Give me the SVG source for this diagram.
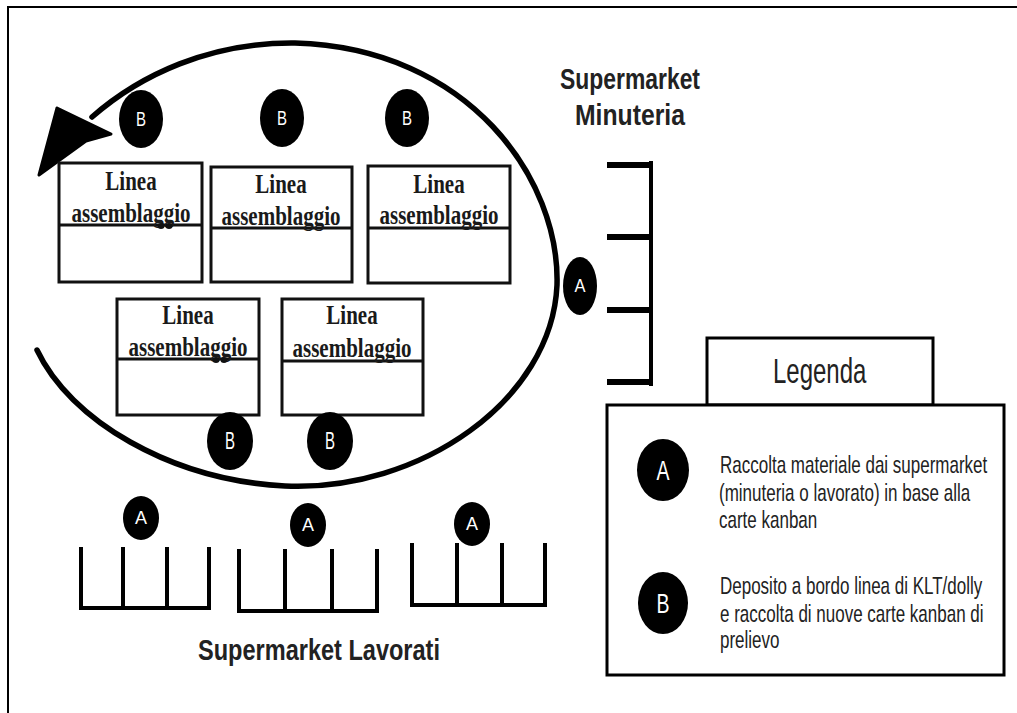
<svg xmlns="http://www.w3.org/2000/svg" width="1017" height="713" viewBox="0 0 1017 713">
  <style>
    .frame { fill: none; stroke: #000; stroke-width: 2; }
    .line-box { fill: #fff; stroke: #111; stroke-width: 3; }
    .divider { stroke: #111; stroke-width: 3; }
    .line-title { font-family: "Liberation Serif", "Times New Roman", serif; font-weight: bold; font-size: 21px; fill: #1a1a1a; text-anchor: middle; }
    .badge { fill: #000; }
    .badge-label { font-family: "Liberation Sans", Arial, sans-serif; fill: #fff; text-anchor: middle; }
    .rack { fill: none; stroke: #000; stroke-width: 4; stroke-linecap: square; }
    .rack-tick { stroke: #000; stroke-width: 6; }
    .heading { font-family: "Liberation Sans", Arial, sans-serif; font-weight: bold; font-size: 23.5px; fill: #222; }
    .legend-box { fill: #fff; stroke: #000; stroke-width: 3; }
    .legend-text { font-family: "Liberation Sans", Arial, sans-serif; font-size: 17px; fill: #222; }
    .legend-title { font-family: "Liberation Sans", Arial, sans-serif; font-size: 24px; fill: #222; }
    .loop { fill: none; stroke: #000; stroke-width: 5.5; stroke-linecap: round; stroke-linejoin: round; }
  </style>

  <rect width="1017" height="713" fill="#fff"/>
  <!-- page border (top and left edges) -->
  <path class="frame" d="M8,713 V7 H1017"/>

  <!-- milk-run loop with arrowhead -->
  <g id="connectors">
    <path class="loop" d="M37,350 C70,420 170,480 285,486 C420,492 552,400 557,285 C560,180 470,48 295,43 C210,42 140,75 92,117"/>
    <polygon points="39,175 57,108 111,134 86,141" fill="#000" stroke="#000" stroke-width="3" stroke-linejoin="round"/>
  </g>

  <!-- assembly lines -->
  <g id="line-1">
    <rect class="line-box" x="59" y="163" width="143" height="119"/>
    <line class="divider" x1="59" y1="225" x2="202" y2="225"/>
    <text class="line-title" transform="translate(131,190) scale(1,1.3)">Linea</text>
    <text class="line-title" transform="translate(131,222) scale(1,1.3)">assemblaggio</text>
    <ellipse cx="161" cy="226" rx="3.5" ry="3" fill="#111"/>
    <ellipse cx="169" cy="226" rx="3.5" ry="3" fill="#111"/>
  </g>
  <g id="line-2">
    <rect class="line-box" x="211" y="167" width="141" height="115"/>
    <line class="divider" x1="211" y1="228" x2="352" y2="228"/>
    <text class="line-title" transform="translate(281,193) scale(1,1.3)">Linea</text>
    <text class="line-title" transform="translate(281,225) scale(1,1.3)">assemblaggio</text>
  </g>
  <g id="line-3">
    <rect class="line-box" x="368" y="166" width="142" height="117"/>
    <line class="divider" x1="368" y1="228" x2="510" y2="228"/>
    <text class="line-title" transform="translate(439,193) scale(1,1.3)">Linea</text>
    <text class="line-title" transform="translate(439,224) scale(1,1.3)">assemblaggio</text>
  </g>
  <g id="line-4">
    <rect class="line-box" x="117" y="299" width="142" height="116"/>
    <line class="divider" x1="117" y1="359" x2="259" y2="359"/>
    <text class="line-title" transform="translate(188,324) scale(1,1.3)">Linea</text>
    <text class="line-title" transform="translate(188,356) scale(1,1.3)">assemblaggio</text>
    <ellipse cx="216" cy="360" rx="3.5" ry="3" fill="#111"/>
    <ellipse cx="224" cy="360" rx="3.5" ry="3" fill="#111"/>
  </g>
  <g id="line-5">
    <rect class="line-box" x="282" y="299" width="141" height="116"/>
    <line class="divider" x1="282" y1="361" x2="423" y2="361"/>
    <text class="line-title" transform="translate(352,324) scale(1,1.3)">Linea</text>
    <text class="line-title" transform="translate(352,357) scale(1,1.3)">assemblaggio</text>
  </g>

  <!-- B stops at the lines -->
  <g id="stop-b-1">
    <ellipse class="badge" cx="141" cy="119" rx="22" ry="29"/>
    <text class="badge-label" x="141" y="126" font-size="21" textLength="10" lengthAdjust="spacingAndGlyphs">B</text>
  </g>
  <g id="stop-b-2">
    <ellipse class="badge" cx="282" cy="118" rx="22" ry="29"/>
    <text class="badge-label" x="282" y="125" font-size="21" textLength="10" lengthAdjust="spacingAndGlyphs">B</text>
  </g>
  <g id="stop-b-3">
    <ellipse class="badge" cx="407" cy="118" rx="22" ry="29"/>
    <text class="badge-label" x="407" y="125" font-size="21" textLength="10" lengthAdjust="spacingAndGlyphs">B</text>
  </g>
  <g id="stop-b-4">
    <ellipse class="badge" cx="230" cy="441" rx="23" ry="29"/>
    <text class="badge-label" x="230" y="449" font-size="23" textLength="10" lengthAdjust="spacingAndGlyphs">B</text>
  </g>
  <g id="stop-b-5">
    <ellipse class="badge" cx="330" cy="441" rx="23" ry="29"/>
    <text class="badge-label" x="330" y="449" font-size="23" textLength="10" lengthAdjust="spacingAndGlyphs">B</text>
  </g>

  <!-- Supermarket Minuteria -->
  <g id="supermarket-minuteria">
    <text class="heading" transform="translate(560,89) scale(1,1.22)" textLength="140" lengthAdjust="spacingAndGlyphs">Supermarket</text>
    <text class="heading" transform="translate(575,125) scale(1,1.22)" textLength="110" lengthAdjust="spacingAndGlyphs">Minuteria</text>
    <line class="rack" x1="651" y1="163" x2="651" y2="384"/>
    <line class="rack-tick" x1="607" y1="165" x2="653" y2="165"/>
    <line class="rack-tick" x1="607" y1="237" x2="653" y2="237"/>
    <line class="rack-tick" x1="607" y1="310" x2="653" y2="310"/>
    <line class="rack-tick" x1="607" y1="382" x2="653" y2="382"/>
  </g>
  <g id="stop-a-minuteria">
    <ellipse class="badge" cx="580" cy="286" rx="17" ry="29"/>
    <text class="badge-label" x="580" y="292" font-size="18" textLength="11" lengthAdjust="spacingAndGlyphs">A</text>
  </g>

  <!-- Supermarket Lavorati -->
  <g id="supermarket-lavorati">
    <path class="rack" d="M81,549 V608 H209 V549 M123,549 V608 M167,549 V608"/>
    <path class="rack" d="M239,551 V611 H377 V551 M285,551 V611 M332,551 V611"/>
    <path class="rack" d="M412,545 V605 H545 V545 M457,545 V605 M502,545 V605"/>
    <text class="heading" transform="translate(198,660) scale(1,1.22)" textLength="242" lengthAdjust="spacingAndGlyphs">Supermarket Lavorati</text>
  </g>
  <g id="stop-a-1">
    <ellipse class="badge" cx="141" cy="518" rx="18" ry="22"/>
    <text class="badge-label" x="141" y="524" font-size="18" textLength="12" lengthAdjust="spacingAndGlyphs">A</text>
  </g>
  <g id="stop-a-2">
    <ellipse class="badge" cx="308" cy="525" rx="18" ry="22"/>
    <text class="badge-label" x="308" y="531" font-size="18" textLength="12" lengthAdjust="spacingAndGlyphs">A</text>
  </g>
  <g id="stop-a-3">
    <ellipse class="badge" cx="472" cy="524" rx="18" ry="22"/>
    <text class="badge-label" x="472" y="530" font-size="18" textLength="12" lengthAdjust="spacingAndGlyphs">A</text>
  </g>

  <!-- Legend -->
  <g id="legend">
    <rect class="legend-box" x="707" y="338" width="226" height="67"/>
    <text class="legend-title" transform="translate(773,383) scale(1,1.5)">Legenda</text>
    <rect class="legend-box" x="607" y="405" width="397" height="270"/>

    <ellipse class="badge" cx="663" cy="470" rx="26" ry="31"/>
    <text class="badge-label" x="663" y="480" font-size="28" textLength="13" lengthAdjust="spacingAndGlyphs">A</text>
    <text class="legend-text" transform="translate(720,473) scale(1,1.4)">Raccolta materiale dai supermarket</text>
    <text class="legend-text" transform="translate(719,501) scale(1,1.4)">(minuteria o lavorato) in base alla</text>
    <text class="legend-text" transform="translate(719,528) scale(1,1.4)">carte kanban</text>

    <ellipse class="badge" cx="663" cy="603" rx="25" ry="31"/>
    <text class="badge-label" x="663" y="613" font-size="28" textLength="13" lengthAdjust="spacingAndGlyphs">B</text>
    <text class="legend-text" transform="translate(720,594) scale(1,1.4)">Deposito a bordo linea di KLT/dolly</text>
    <text class="legend-text" transform="translate(720,622) scale(1,1.4)">e raccolta di nuove carte kanban di</text>
    <text class="legend-text" transform="translate(720,648) scale(1,1.4)">prelievo</text>
  </g>
</svg>
